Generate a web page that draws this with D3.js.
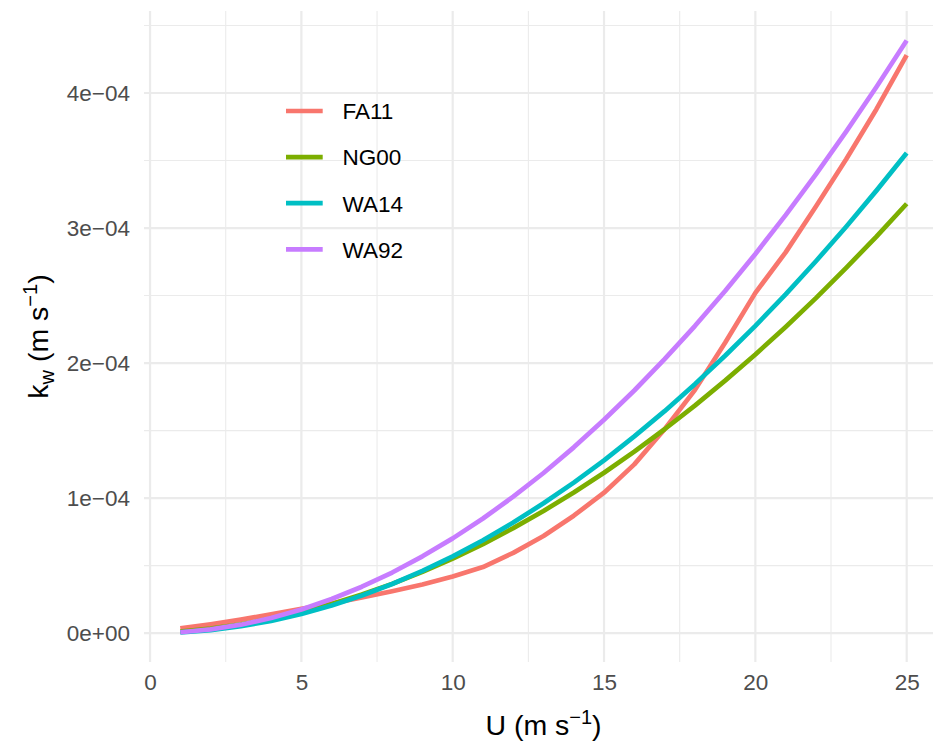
<!DOCTYPE html>
<html>
<head>
<meta charset="utf-8">
<script src="https://cdn.jsdelivr.net/npm/d3@7"></script>
<style>
  body { margin: 0; background: #fff; }
  text { font-family: "Liberation Sans", Arial, sans-serif; }
</style>
</head>
<body>
<svg id="chart" width="933" height="746"></svg>
<script>
// wind speed U (m/s) and transfer velocity kw, in units of 1e-4 m/s
const windSpeed = [1, 2, 3, 4, 5, 6, 7, 8, 9, 10, 11, 12, 13, 14, 15, 16, 17, 18, 19, 20, 21, 22, 23, 24, 25];
const fa11 = [0.035, 0.065, 0.10, 0.14, 0.18, 0.22, 0.265, 0.31, 0.36, 0.42, 0.49, 0.595, 0.72, 0.87, 1.04, 1.25, 1.51, 1.80, 2.15, 2.52, 2.82, 3.16, 3.51, 3.88, 4.28];
const ng00 = [0.012, 0.034, 0.065, 0.106, 0.156, 0.216, 0.286, 0.365, 0.454, 0.552, 0.660, 0.778, 0.905, 1.042, 1.188, 1.344, 1.510, 1.685, 1.870, 2.064, 2.268, 2.481, 2.705, 2.937, 3.180];
const wa14 = [0.0057, 0.0228, 0.0512, 0.091, 0.142, 0.205, 0.279, 0.364, 0.461, 0.569, 0.688, 0.819, 0.962, 1.115, 1.280, 1.457, 1.644, 1.844, 2.054, 2.276, 2.509, 2.754, 3.010, 3.277, 3.556];
const wa92 = [0.007, 0.028, 0.063, 0.112, 0.176, 0.253, 0.344, 0.449, 0.569, 0.702, 0.849, 1.011, 1.186, 1.376, 1.580, 1.797, 2.029, 2.274, 2.534, 2.808, 3.096, 3.398, 3.714, 4.044, 4.388];
const UNIT = 1e-4;

const seriesNames = ["FA11", "NG00", "WA14", "WA92"];
const seriesValues = [fa11, ng00, wa14, wa92];
const seriesColors = ["#F8766D", "#7CAE00", "#00BFC4", "#C77CFF"];

const xTicks = [0, 5, 10, 15, 20, 25];
const xMinor = [2.5, 7.5, 12.5, 17.5, 22.5];
const yTicks = [0, 1e-4, 2e-4, 3e-4, 4e-4];
const yTickLabels = ["0e+00", "1e\u221204", "2e\u221204", "3e\u221204", "4e\u221204"];
const yMinor = [0.5e-4, 1.5e-4, 2.5e-4, 3.5e-4, 4.5e-4];

var svg = d3.select('#chart'),
    panelLeft = 144, panelRight = 943, panelTop = 11, panelBottom = 662;

var series = seriesNames.map((name, i) => ({
    name: name,
    color: seriesColors[i],
    values: windSpeed.map((u, j) => ({u: u, k: seriesValues[i][j] * UNIT}))
}));

// ggplot-style 5% expansion
var xExt = d3.extent(windSpeed),
    xPad = (xExt[1] - xExt[0]) * 0.05;
var allK = series.flatMap(s => s.values.map(d => d.k)),
    yExt = d3.extent(allK),
    yPad = (yExt[1] - yExt[0]) * 0.05;

var x = d3.scaleLinear().domain([xExt[0] - xPad, xExt[1] + xPad]).range([panelLeft, panelRight]);
var y = d3.scaleLinear().domain([yExt[0] - yPad, yExt[1] + yPad]).range([panelBottom, panelTop]);

var grid = svg.append('g');
// minor grid
grid.selectAll('.xminor').data(xMinor).enter().append('line')
    .attr('x1', d => x(d)).attr('x2', d => x(d))
    .attr('y1', panelTop).attr('y2', panelBottom)
    .attr('stroke', '#EBEBEB').attr('stroke-width', 1.1);
grid.selectAll('.yminor').data(yMinor).enter().append('line')
    .attr('x1', panelLeft).attr('x2', panelRight)
    .attr('y1', d => y(d)).attr('y2', d => y(d))
    .attr('stroke', '#EBEBEB').attr('stroke-width', 1.1);
// major grid
grid.selectAll('.xmajor').data(xTicks).enter().append('line')
    .attr('x1', d => x(d)).attr('x2', d => x(d))
    .attr('y1', panelTop).attr('y2', panelBottom)
    .attr('stroke', '#EBEBEB').attr('stroke-width', 2.2);
grid.selectAll('.ymajor').data(yTicks).enter().append('line')
    .attr('x1', panelLeft).attr('x2', panelRight)
    .attr('y1', d => y(d)).attr('y2', d => y(d))
    .attr('stroke', '#EBEBEB').attr('stroke-width', 2.2);

// axes (labels only, theme_minimal has no axis lines)
var xAxis = svg.append('g')
    .attr('transform', 'translate(0,' + panelBottom + ')')
    .call(d3.axisBottom(x).tickValues(xTicks).tickSize(0).tickPadding(12));
var yAxis = svg.append('g')
    .attr('transform', 'translate(' + panelLeft + ',0)')
    .call(d3.axisLeft(y).tickValues(yTicks).tickSize(0).tickPadding(14)
        .tickFormat((d, i) => yTickLabels[i]));
[xAxis, yAxis].forEach(a => {
    a.select('.domain').remove();
    a.selectAll('text')
        .style('font-family', '"Liberation Sans", Arial, sans-serif')
        .style('font-size', '22.5px')
        .attr('fill', '#4D4D4D');
});

// lines
var line = d3.line()
    .x(d => x(d.u))
    .y(d => y(d.k));

svg.append('g').selectAll('path')
    .data(series)
    .enter()
    .append('path')
    .attr('d', d => line(d.values))
    .attr('fill', 'none')
    .attr('stroke', d => d.color)
    .attr('stroke-width', 4.7)
    .attr('stroke-linejoin', 'round');

// legend
var legend = svg.append('g')
    .attr('transform', 'translate(286,111)');
var item = legend.selectAll('g')
    .data(series)
    .enter()
    .append('g')
    .attr('transform', (d, i) => 'translate(0,' + i * 46.1 + ')');
item.append('line')
    .attr('x1', 0).attr('x2', 36.7)
    .attr('stroke', d => d.color)
    .attr('stroke-width', 4.7);
item.append('text')
    .attr('x', 56.5)
    .attr('y', 8.3)
    .style('font-size', '22.5px')
    .attr('fill', '#000')
    .text(d => d.name);

// axis titles
var xTitle = svg.append('text')
    .attr('x', (panelLeft + panelRight) / 2)
    .attr('y', 735)
    .attr('text-anchor', 'middle')
    .style('font-size', '28.5px')
    .attr('fill', '#000');
xTitle.append('tspan').text('U (m s');
xTitle.append('tspan').attr('dy', -11).style('font-size', '20px').text('\u22121');
xTitle.append('tspan').attr('dy', 11).text(')');

var yTitle = svg.append('text')
    .attr('transform', 'translate(48,' + ((panelTop + panelBottom) / 2) + ') rotate(-90)')
    .attr('text-anchor', 'middle')
    .style('font-size', '28.5px')
    .attr('fill', '#000');
yTitle.append('tspan').text('k');
yTitle.append('tspan').attr('dy', 6).style('font-size', '20px').text('w');
yTitle.append('tspan').attr('dy', -6).text(' (m s');
yTitle.append('tspan').attr('dy', -11).style('font-size', '20px').text('\u22121');
yTitle.append('tspan').attr('dy', 11).text(')');
</script>
</body>
</html>
